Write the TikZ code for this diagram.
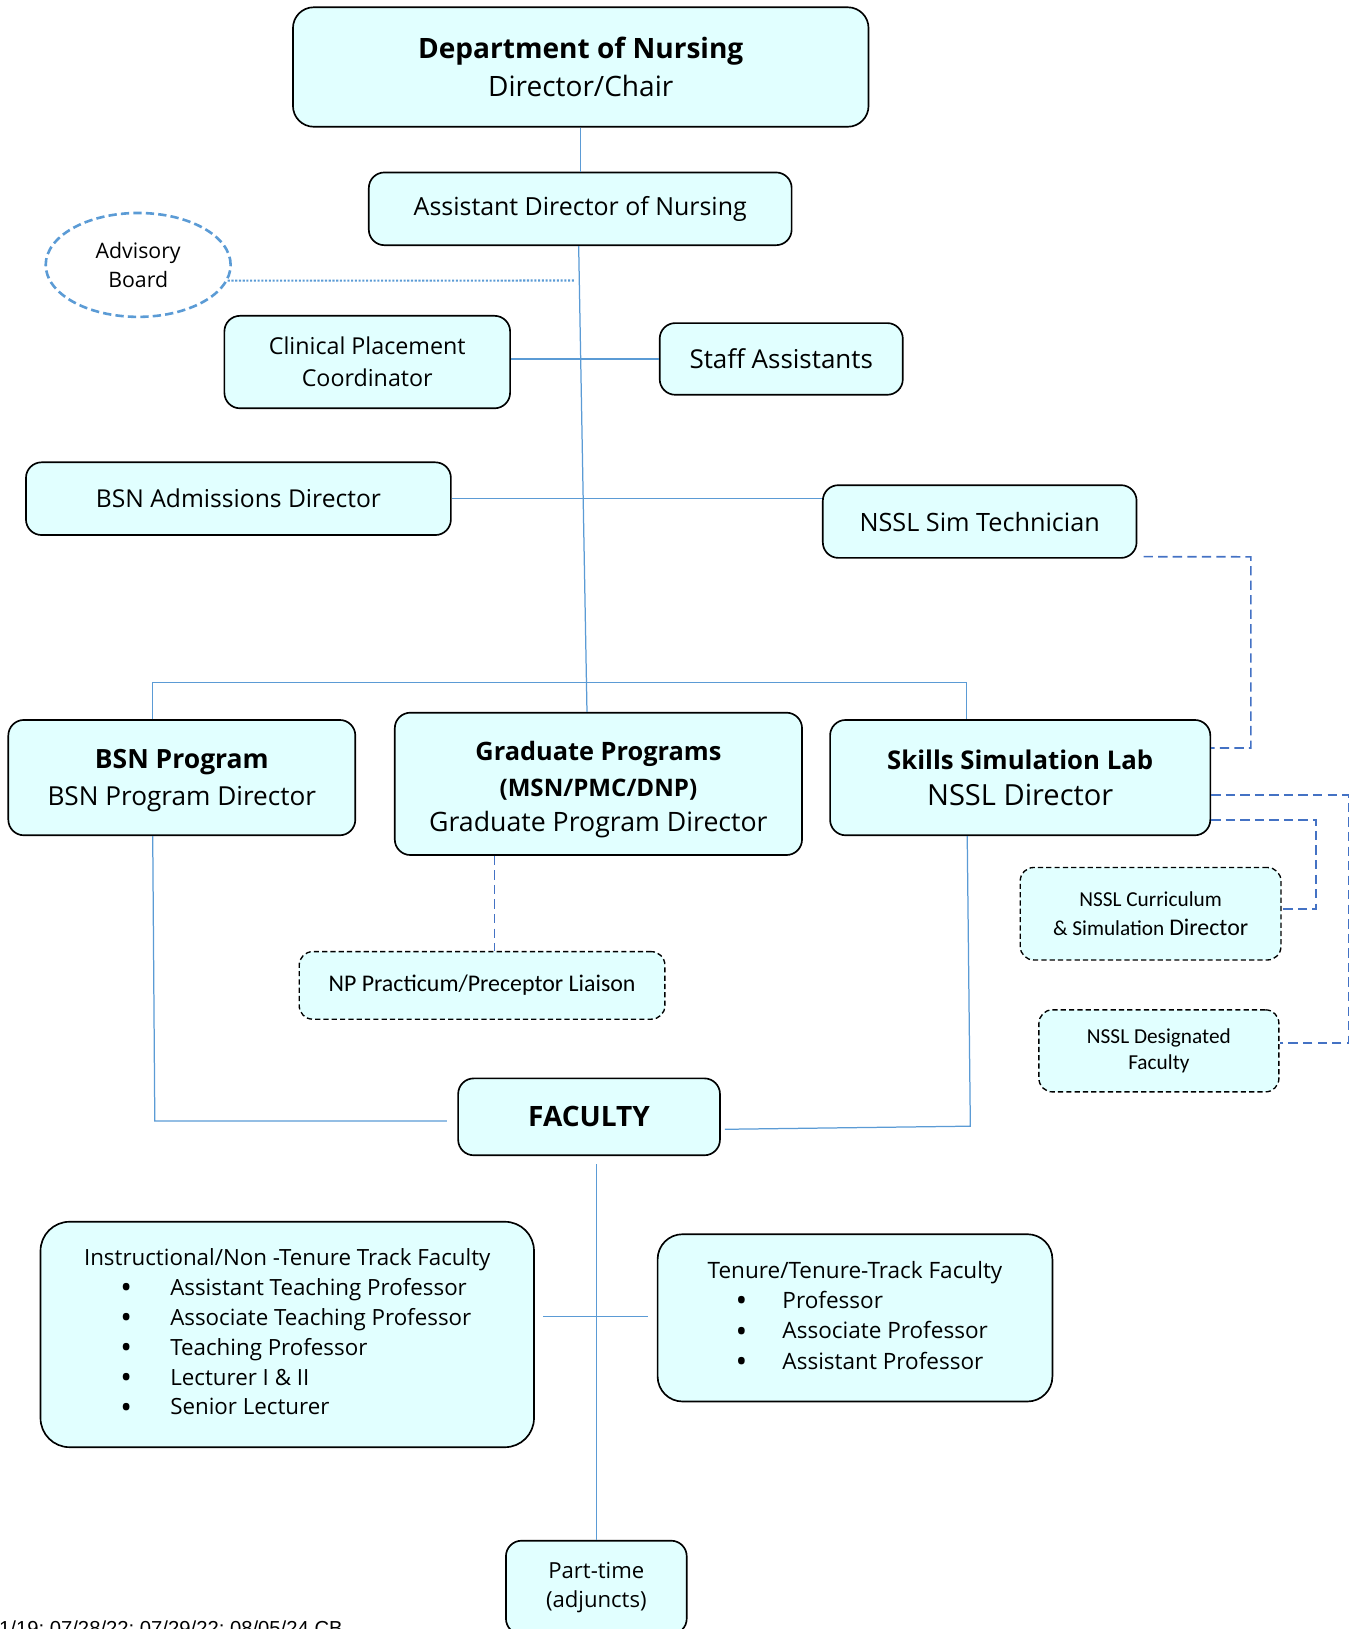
\documentclass[tikz,border=0pt]{standalone}
\usepackage{fontspec}
\setmainfont{Open Sans}
\newfontfamily\calfont{Carlito}
\newfontfamily\arialfont{Liberation Sans}
\usetikzlibrary{shapes.geometric,calc}
\definecolor{boxfill}{HTML}{E1FFFF}
\definecolor{connblue}{HTML}{5B9BD5}
\definecolor{dashblue}{HTML}{4472C4}
\newcommand{\myfs}[2]{\fontsize{#1}{#2}\selectfont}
\newcommand{\bigbul}{\raisebox{-3pt}{\fontsize{30}{20}\selectfont\textbullet}}
\tikzset{
  orgbox/.style={draw=black, line width=1.6pt, rounded corners=15pt, fill=boxfill, inner sep=0pt, align=center, text=black},
  dashbox/.style={orgbox, line width=1.3pt, dash pattern=on 5pt off 3pt, rounded corners=13pt},
  conn/.style={draw=connblue, line width=1.2pt},
  dconn/.style={draw=dashblue, line width=1.6pt, dash pattern=on 9pt off 5pt},
  dotconn/.style={draw=connblue, line width=2pt, dash pattern=on 2pt off 1.6pt},
}
\begin{document}
\begin{tikzpicture}[x=1pt,y=-1pt]
\useasboundingbox (0,0) rectangle (1312,1568);
\clip (0,0) rectangle (1312,1568);

% nodes
\node[orgbox, rounded corners=20pt, minimum width=554pt, minimum height=115pt, font=\myfs{27}{37}] (dept) at (559,64.5)
  {{\fontsize{27}{37}\selectfont\bfseries Department of Nursing}\\Director/Chair};
\node[orgbox, minimum width=407pt, minimum height=70pt, font=\myfs{24}{28}] (ad) at (558.5,201) {Assistant Director of Nursing};
\node[ellipse, draw=connblue, line width=2.5pt, dash pattern=on 8pt off 4pt, minimum width=178pt, minimum height=100pt, inner sep=0pt, align=center, font=\myfs{20.5}{28}] (adv) at (133,255) {Advisory\\Board};
\node[orgbox, minimum width=275pt, minimum height=89pt, font=\myfs{22.4}{31}] (cpc) at (353.5,348.5) {Clinical Placement\\Coordinator};
\node[orgbox, minimum width=234pt, minimum height=69pt, font=\myfs{25}{28}] (staff) at (752,345.5) {Staff Assistants};
\node[orgbox, minimum width=409pt, minimum height=70pt, font=\myfs{23.7}{28}] (bsnadm) at (229.5,480) {BSN Admissions Director};
\node[orgbox, minimum width=302pt, minimum height=70pt, font=\myfs{24.3}{28}] (simtech) at (943,502) {NSSL Sim Technician};
\node[orgbox, minimum width=334pt, minimum height=111pt, font=\myfs{25.2}{36}] (bsn) at (175,748.5)
  {\raisebox{-2pt}[\height][\depth]{\begin{tabular}{@{}c@{}}{\fontsize{25.5}{36}\selectfont\bfseries BSN Program}\\BSN Program Director\end{tabular}}};
\node[orgbox, minimum width=392pt, minimum height=137pt, font=\myfs{25.7}{34}] (grad) at (576,754.5)
  {\raisebox{-5pt}[\height][\depth]{\begin{tabular}{@{}c@{}}{\fontsize{24.4}{34}\selectfont\bfseries Graduate Programs}\\{\fontsize{23.2}{34}\selectfont\bfseries (MSN/PMC/DNP)}\\Graduate Program Director\end{tabular}}};
\node[orgbox, minimum width=366pt, minimum height=111pt, font=\myfs{28}{35}] (skills) at (982,748.5)
  {{\fontsize{24.8}{35}\selectfont\bfseries Skills Simulation Lab}\\NSSL Director};
\node[dashbox, minimum width=251pt, minimum height=89pt, font=\calfont\myfs{20.5}{28}] (curr) at (1107.5,879.5)
  {NSSL Curriculum\\\& Simulation {\fontsize{23}{28}\selectfont Director}};
\node[dashbox, minimum width=231pt, minimum height=79pt, font=\calfont\myfs{20.5}{25}] (desig) at (1115.5,1011.5)
  {NSSL Designated\\Faculty};
\node[dashbox, minimum width=352pt, minimum height=65pt, font=\calfont\myfs{23}{26}] (np) at (464,948.5)
  {NP Practicum/Preceptor Liaison};
\node[orgbox, minimum width=252pt, minimum height=74pt, font=\myfs{27}{30}\bfseries] (fac) at (567,1075) {FACULTY};
\node[orgbox, rounded corners=28pt, minimum width=475pt, minimum height=217pt, font=\myfs{21.5}{28.7}] (instr) at (276.5,1284.5)
  {\begin{tabular}{@{}l@{}}Instructional/Non -Tenure Track Faculty\\
   \hspace*{35pt}\makebox[48pt][l]{\bigbul}Assistant Teaching Professor\\
   \hspace*{35pt}\makebox[48pt][l]{\bigbul}Associate Teaching Professor\\
   \hspace*{35pt}\makebox[48pt][l]{\bigbul}Teaching Professor\\
   \hspace*{35pt}\makebox[48pt][l]{\bigbul}Lecturer I \& II\\
   \hspace*{35pt}\makebox[48pt][l]{\bigbul}Senior Lecturer\end{tabular}};
\node[orgbox, rounded corners=24pt, minimum width=380pt, minimum height=161pt, font=\myfs{21.7}{29}] (tenure) at (823,1268.5)
  {\begin{tabular}{@{}l@{}}Tenure/Tenure-Track Faculty\\
   \hspace*{27pt}\makebox[45pt][l]{\bigbul}Professor\\
   \hspace*{27pt}\makebox[45pt][l]{\bigbul}Associate Professor\\
   \hspace*{27pt}\makebox[45pt][l]{\bigbul}Assistant Professor\end{tabular}};
\node[orgbox, minimum width=174pt, minimum height=90pt, font=\myfs{21.3}{28}] (part) at (574,1528) {Part-time\\(adjuncts)};
\node[anchor=base west, inner sep=0pt, font=\arialfont\myfs{19.5}{22}] (footer) at (-1,1574) {1/19; 07/28/22; 07/29/22; 08/05/24 CB};

% coordinates
\coordinate (trunkTop) at (557,0);
\coordinate (trunkBot) at (565,0);
\coordinate (advEnd) at (553,270);
\coordinate (hL) at (147,657);
\coordinate (hR) at (930,657);
\coordinate (bL) at (149,1079);
\coordinate (sR) at (934,1084);
\coordinate (gx) at (476,0);
\coordinate (d1) at (1204,536);
\coordinate (d1b) at (1204,720);
\coordinate (d2) at (1298,765);
\coordinate (d3) at (1298,1004);
\coordinate (d4) at (1267,789);
\coordinate (d5) at (1267,875);
\coordinate (tx) at (0,1267);

% connectors
\draw[conn] (dept.south) -- (dept.south |- ad.north);
\draw[conn] (ad.south -| trunkTop) -- (grad.north -| trunkBot);
\draw[dotconn] (adv.-10) -- (advEnd);
\draw[conn] (staff.west -| cpc.east) -- (staff.west);
\draw[conn] (bsnadm.east) -- (bsnadm.east -| simtech.west);
\draw[conn] (hL |- bsn.north) -- (hL) -- (hR) -- (hR |- skills.north);
\draw[conn] ([xshift=-2pt]bsn.south -| bL) -- (bL) -- ($(bL -| fac.west)+(-10,0)$);
\draw[conn] ([xshift=-3pt]skills.south -| sR) -- (sR) -- ($(fac.east |- sR)+(4,3)$);
\draw[conn] ([yshift=-8pt]fac.south -| part.north) -- (part.north);
\draw[conn] ($(instr.east |- tx)+(8,0)$) -- ($(tenure.west |- tx)+(-8,0)$);
\draw[dconn] (grad.south -| gx) -- (np.north -| gx);
\draw[dconn] ($(simtech.south east)+(6,-2)$) -- (d1) -- (d1b) -- (skills.east |- d1b);
\draw[dconn] (skills.east |- d2) -- (d2) -- (d3) -- (desig.east |- d3);
\draw[dconn] (skills.east |- d4) -- (d4) -- (d5) -- (curr.east |- d5);
\end{tikzpicture}
\end{document}
